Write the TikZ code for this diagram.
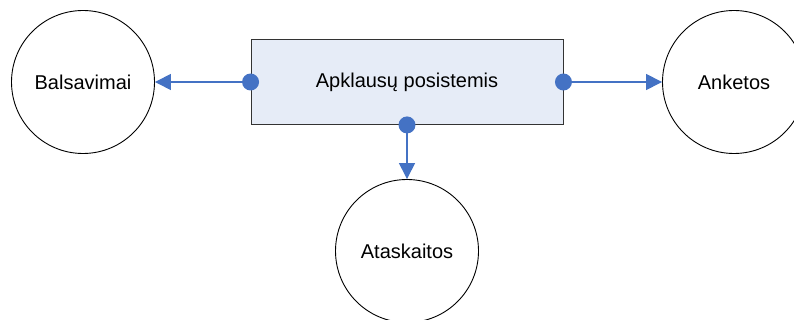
\documentclass[tikz,border=0pt]{standalone}
\usepackage{fontspec}
\setmainfont{Liberation Sans}
\usetikzlibrary{arrows.meta,positioning}

\definecolor{linkblue}{HTML}{4472C4}
\definecolor{boxfill}{HTML}{E6ECF7}

\tikzset{
  subsys/.style={draw=black!80,fill=boxfill,line width=0.9pt,minimum width=312pt,minimum height=85pt,inner sep=0pt},
  part/.style={circle,draw=black,line width=0.9pt,minimum size=143pt,inner sep=0pt},
  link/.style={draw=linkblue,line width=1.4pt,-{Triangle[length=16pt,width=16pt]}},
  linkdot/.style={fill=linkblue}
}

\begin{document}
\begin{tikzpicture}[x=1pt,y=-1pt,font=\fontsize{20}{24}\selectfont]

  \useasboundingbox (0,0) rectangle (794,320);

  % main subsystem
  \node[subsys] (apkl) at (407,82) {Apklausų posistemis};

  % parts
  \node[part] (balsav) at (83,82) {Balsavimai};
  \node[part] (anket) at (734,82) {Anketos};
  \node[part] (atask) at (407,251) {Ataskaitos};

  % links
  \draw[link] (apkl.west) -- (balsav);
  \draw[link] (apkl.east) -- (anket);
  \draw[link] (apkl.south) -- (atask);

  \fill[linkdot] (apkl.west) circle (8.5);
  \fill[linkdot] (apkl.east) circle (8.5);
  \fill[linkdot] (apkl.south) circle (8.5);

\end{tikzpicture}
\end{document}
